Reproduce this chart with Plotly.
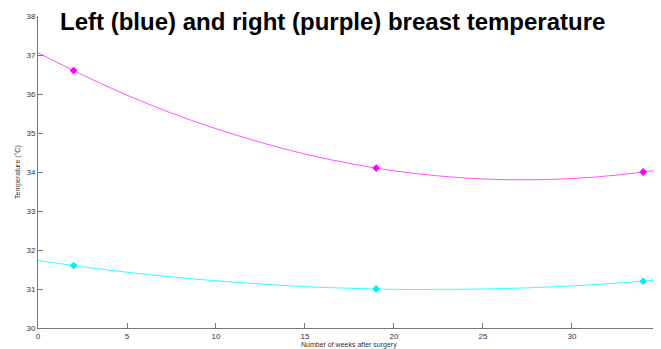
import plotly.graph_objects as go

# measured points
weeks = [2, 19, 34]
right_temp = [36.6, 34.1, 34.0]   # purple / magenta
left_temp = [31.6, 31.0, 31.2]    # blue / cyan

# fitted curves
curve_x = [0, 2.5, 5, 7.5, 10, 12.5, 15, 17.5, 20, 22.5, 25, 27.5, 30, 32.5, 35]
right_curve = [37.06, 36.49, 35.97, 35.51, 35.11, 34.76, 34.46, 34.22, 34.03, 33.90, 33.82, 33.80, 33.83, 33.92, 34.06]
left_curve = [31.73, 31.57, 31.43, 31.31, 31.21, 31.13, 31.06, 31.02, 30.99, 30.99, 31.00, 31.03, 31.08, 31.15, 31.24]

x_ticks = [0, 5, 10, 15, 20, 25, 30, 35]
y_ticks = [30, 31, 32, 33, 34, 35, 36, 37, 38]

fig = go.Figure()
fig.add_trace(go.Scatter(x=curve_x, y=right_curve, mode="lines",
                         line=dict(color="#ff55ff", width=1, shape="spline"), showlegend=False))
fig.add_trace(go.Scatter(x=curve_x, y=left_curve, mode="lines",
                         line=dict(color="#33ffff", width=1, shape="spline"), showlegend=False))
fig.add_trace(go.Scatter(x=weeks, y=right_temp, mode="markers",
                         marker=dict(color="#ff00ff", size=6, symbol="diamond"), showlegend=False))
fig.add_trace(go.Scatter(x=weeks, y=left_temp, mode="markers",
                         marker=dict(color="#00eeee", size=6, symbol="diamond"), showlegend=False))

axis_font = dict(family="Liberation Sans, Arial, sans-serif", size=8, color="#333333")
fig.update_xaxes(range=[0, 35.001], tickvals=x_ticks, ticks="inside", ticklen=5, tickcolor="#777777",
                 showline=True, linecolor="#777777", linewidth=1, showgrid=False, zeroline=False,
                 tickfont=axis_font, ticklabeloverflow="allow")
fig.update_yaxes(range=[30, 38], tickvals=y_ticks, ticks="inside", ticklen=5, tickcolor="#777777",
                 showline=True, linecolor="#777777", linewidth=1, showgrid=False, zeroline=False,
                 tickfont=axis_font)

# page body has an 8px margin: shift everything by -8
OFF = 8
W, H = 661 - OFF, 349 - OFF
L, T, B = 38 - OFF, 16 - OFF, 21
pw = W - L
ph = H - T - B

def px(x):
    return (x - OFF - L) / pw

def py(y):
    return (H - B - (y - OFF)) / ph

fig.update_layout(
    width=W, height=H,
    margin=dict(l=L, r=0, t=T, b=B, autoexpand=False),
    paper_bgcolor="white", plot_bgcolor="white",
    annotations=[
        dict(text="<b>Left (blue) and right (purple) breast temperature</b>", x=px(332), y=py(21),
             xref="paper", yref="paper", showarrow=False, xanchor="center", yanchor="middle",
             font=dict(family="Liberation Sans, Arial, sans-serif", size=24, color="black")),
        dict(text="Number of weeks after surgery", x=px(349), y=py(345), xref="paper", yref="paper",
             showarrow=False, xanchor="center", yanchor="middle",
             font=dict(family="Liberation Sans, Arial, sans-serif", size=7, color="#333333")),
        dict(text="Temperature (°C)", x=px(18), y=py(172), xref="paper", yref="paper", textangle=-90,
             showarrow=False, xanchor="center", yanchor="middle",
             font=dict(family="Liberation Sans, Arial, sans-serif", size=7, color="#333333")),
    ],
)
fig.write_html("out.html")
